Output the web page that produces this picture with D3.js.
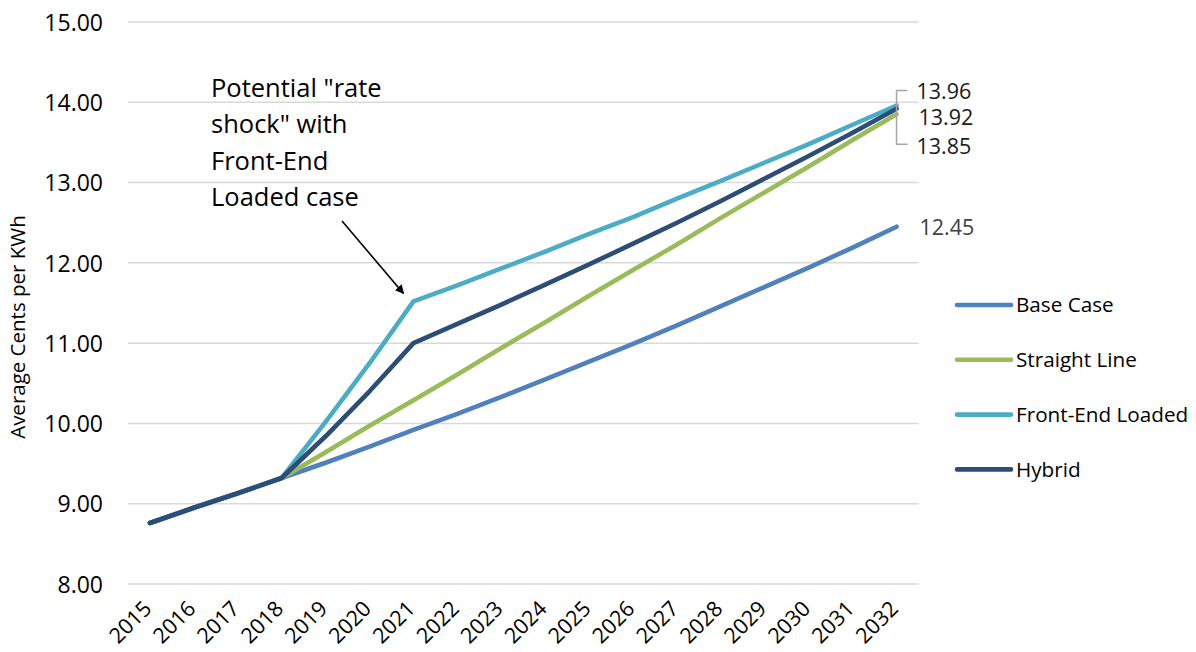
<!DOCTYPE html>
<html><head><meta charset="utf-8">
<script src="https://cdn.jsdelivr.net/npm/d3@7"></script>
<style>html,body{margin:0;padding:0;background:#fff;}svg{display:block;font-family:"Open Sans","Noto Sans",sans-serif;}</style>
</head><body>
<svg id="chart" width="1196" height="652"></svg>
<script>
const years = ["2015","2016","2017","2018","2019","2020","2021","2022","2023","2024","2025","2026","2027","2028","2029","2030","2031","2032"];
const baseCase     = [8.76,8.95,9.13,9.32,9.51,9.71,9.92,10.12,10.33,10.55,10.77,10.99,11.22,11.46,11.70,11.94,12.19,12.45];
const straightLine = [8.76,8.95,9.13,9.32,9.64,9.97,10.29,10.61,10.94,11.26,11.59,11.91,12.23,12.56,12.88,13.20,13.53,13.85];
const frontEnd     = [8.76,8.95,9.13,9.32,10.02,10.75,11.52,11.72,11.93,12.14,12.36,12.57,12.80,13.02,13.25,13.48,13.72,13.96];
const hybrid       = [8.76,8.95,9.13,9.32,9.84,10.40,11.00,11.24,11.48,11.73,11.98,12.24,12.50,12.77,13.05,13.33,13.62,13.92];
const seriesNames  = ["Base Case","Straight Line","Front-End Loaded","Hybrid"];
const yTicks = [8,9,10,11,12,13,14,15];
const annotationLines = ["Potential \"rate","shock\" with","Front-End","Loaded case"];
const yTitle = "Average Cents per KWh";

const colors = ["#4F81BD","#9BBB59","#4BACC6","#2C4D75"];
const seriesData = [baseCase, straightLine, frontEnd, hybrid];

const svg = d3.select("#chart");
const x = d3.scaleBand().domain(years).range([128, 918.5]);
const xc = d => x(d) + x.bandwidth()/2;
const y = d3.scaleLinear().domain([8,15]).range([584, 22]);

// gridlines
svg.append("g").selectAll("line").data(yTicks).join("line")
  .attr("x1", 128).attr("x2", 918.5)
  .attr("y1", d => y(d)).attr("y2", d => y(d))
  .attr("stroke", "#d9d9d9").attr("stroke-width", 1.5);

// y axis labels
const yAxis = svg.append("g").attr("transform","translate(103,0)")
  .call(d3.axisLeft(y).tickValues(yTicks).tickFormat(d3.format(".2f")).tickSize(0).tickPadding(0));
yAxis.select(".domain").remove();
yAxis.selectAll("text").attr("font-size", 23).attr("fill", "#000")
  .attr("font-family", "'Open Sans','Noto Sans',sans-serif").attr("dy","0.36em");

// y title
svg.append("text").attr("transform","translate(25,327) rotate(-90)")
  .attr("text-anchor","middle").attr("font-size",20.5).attr("fill","#000").text(yTitle);

// x axis labels
svg.append("g").selectAll("text").data(years).join("text")
  .attr("transform", d => `translate(${xc(d)+3},610) rotate(-45)`)
  .attr("text-anchor","end").attr("font-size",21.5).attr("fill","#000").text(d => d);

// lines
const line = d3.line().x((d,i) => xc(years[i])).y(d => y(d));
svg.append("g").selectAll("path").data(seriesData).join("path")
  .attr("d", line).attr("fill","none")
  .attr("stroke", (d,i) => colors[i]).attr("stroke-width", 4.6)
  .attr("stroke-linecap","round").attr("stroke-linejoin","round");

// data labels
const last = years[years.length-1];
const lx = xc(last);
svg.append("path")
  .attr("d", `M${lx+11},${y(frontEnd[17])-15}H${lx}V${y(straightLine[17])+30}H${lx+11}`)
  .attr("fill","none").attr("stroke","#a6a6a6").attr("stroke-width",1.5);
const labelFmt = d3.format(".2f");
const labels = [
  {v: frontEnd[17], dx: 20, dy: y(frontEnd[17]) - 14},
  {v: hybrid[17], dx: 22, dy: y(hybrid[17]) + 9},
  {v: straightLine[17], dx: 20, dy: y(straightLine[17]) + 32},
  {v: baseCase[17], dx: 23, dy: y(baseCase[17]) + 1}
];
svg.append("g").selectAll("text").data(labels).join("text")
  .attr("x", d => lx + d.dx).attr("y", d => d.dy).attr("dy","0.36em")
  .attr("font-size",21.5).attr("fill", (d,i) => i===3 ? "#404040" : "#1a1a1a")
  .text(d => labelFmt(d.v));

// legend
const leg = svg.append("g").selectAll("g").data(seriesNames).join("g")
  .attr("transform", (d,i) => `translate(957,${305 + i*54.8})`);
leg.append("line").attr("x1",0).attr("x2",54).attr("y1",0).attr("y2",0)
  .attr("stroke",(d,i)=>colors[i]).attr("stroke-width",4.6).attr("stroke-linecap","round");
leg.append("text").attr("x",59).attr("dy","0.36em").attr("font-size",20.7).attr("fill","#000").text(d=>d);

// annotation
svg.append("g").selectAll("text").data(annotationLines).join("text")
  .attr("x", 211).attr("y", (d,i) => 97 + i*36.3)
  .attr("font-size", 25.5).attr("fill","#000").text(d => d);

// arrow
const defs = svg.append("defs");
defs.append("marker").attr("id","arrowhead").attr("viewBox","0 0 10 10")
  .attr("refX",9).attr("refY",5).attr("markerWidth",9).attr("markerHeight",9)
  .attr("orient","auto").attr("markerUnits","userSpaceOnUse")
  .append("path").attr("d","M0,0L10,5L0,10Z").attr("fill","#000");
const tipX = xc("2021") - 10, tipY = y(frontEnd[6]) - 8;
svg.append("line").attr("x1", 342).attr("y1", 221).attr("x2", tipX).attr("y2", tipY)
  .attr("stroke","#000").attr("stroke-width",1.6).attr("marker-end","url(#arrowhead)");
</script>
</body></html>
